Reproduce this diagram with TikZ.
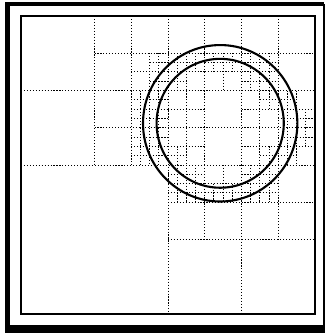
\documentclass[tikz,border=0pt]{standalone}
\usepackage{tikz}
\usetikzlibrary{calc}

\begin{document}
\begin{tikzpicture}[
  x=0.25mm, y=-0.25mm,
  cell/.style={line width=0.7pt, dash pattern=on 0.8pt off 1.3pt},
  ring/.style={line width=1.5pt},
  boxline/.style={line width=1pt}
]
\useasboundingbox (0,0) rectangle (326,336);
% outer frame, heavy on the left and at the bottom
\draw[line width=2.8pt] (6,4) -- (324.5,4);
\draw[line width=1.4pt] (324,4) -- (324,329);
\draw[line width=3.6pt] (7.5,2) -- (7.5,332.5);
\draw[line width=5pt] (5.7,329) -- (324.7,329);
\begin{scope}[shift={(21,16)}, x=9.1875mm, y=-9.3125mm]
\coordinate (centre) at (5.42,2.88);
% quadtree
\draw[cell] (4,0) -- (4,8) (0,4) -- (8,4);
\foreach \cx/\cy in {2/2, 6/2, 6/6}
  \draw[cell] (\cx-2,\cy) -- (\cx+2,\cy) (\cx,\cy-2) -- (\cx,\cy+2);
\foreach \cx/\cy in {3/1, 3/3, 5/1, 7/1, 5/3, 7/3, 5/5, 7/5}
  \draw[cell] (\cx-1,\cy) -- (\cx+1,\cy) (\cx,\cy-1) -- (\cx,\cy+1);
\foreach \i/\j in {3/1, 4/1, 5/1, 6/1, 3/2, 4/2, 6/2, 7/2, 3/3, 4/3, 6/3, 7/3, 4/4, 5/4, 6/4} {
  \draw[cell] (\i,\j+.5) -- (\i+1,\j+.5) (\i+.5,\j) -- (\i+.5,\j+1);
  \foreach \a in {0,0.5} \foreach \b in {0,0.5} {
    \pgfmathsetmacro\xa{\i+\a}
    \pgfmathsetmacro\ya{\j+\b}
    \pgfmathsetmacro\dmin{sqrt(max(\xa-5.42,0,5.42-\xa-0.5)^2+max(\ya-2.88,0,2.88-\ya-0.5)^2)}
    \pgfmathsetmacro\dmax{sqrt(max(abs(\xa-5.42),abs(\xa+0.5-5.42))^2+max(abs(\ya-2.88),abs(\ya+0.5-2.88))^2)}
    \pgfmathtruncatemacro\hit{or(and(\dmin<2.1,\dmax>2.1),and(\dmin<1.73,\dmax>1.73))}
    \ifnum\hit=1
      \draw[cell] (\xa,\ya+.25) -- (\xa+.5,\ya+.25) (\xa+.25,\ya) -- (\xa+.25,\ya+.5);
    \fi
  }
}
\draw[boxline] (0,0) rectangle (8,8);
\draw[ring] (centre) circle [radius=2.1];
\draw[ring] (centre) circle [radius=1.73];
\end{scope}
\end{tikzpicture}
\end{document}
